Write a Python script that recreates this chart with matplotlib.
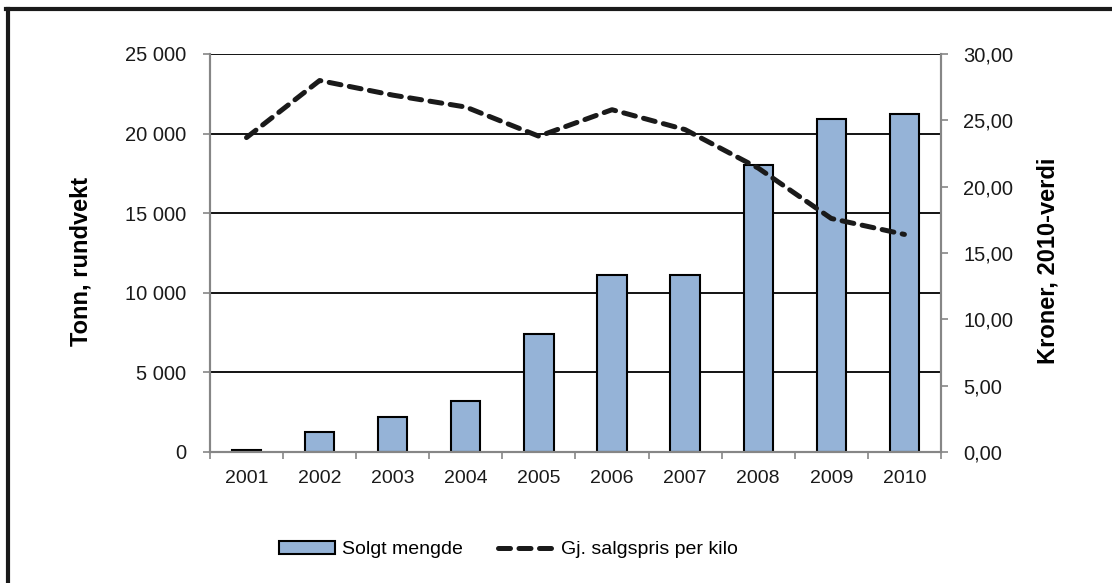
import matplotlib
matplotlib.use('Agg')
import matplotlib.pyplot as plt
from matplotlib.ticker import FuncFormatter, FixedLocator
from matplotlib.lines import Line2D
from matplotlib.patches import Patch

plt.rcParams['font.family'] = ['Liberation Sans', 'DejaVu Sans']

years = ['2001', '2002', '2003', '2004', '2005', '2006', '2007', '2008', '2009', '2010']
solgt = [120, 1250, 2200, 3200, 7400, 11100, 11100, 18050, 20900, 21200]
pris = [23.7, 28.0, 26.9, 26.0, 23.8, 25.8, 24.3, 21.4, 17.6, 16.4]

fig = plt.figure(figsize=(11.12, 5.83), dpi=100)
ax1 = fig.add_axes([0.1888, 0.2247, 0.6574, 0.6827])
ax2 = ax1.twinx()

x = list(range(len(years)))
ax1.bar(x, solgt, width=0.4, color='#95B3D7', edgecolor='black', linewidth=1.5, zorder=2)
ax2.plot(x, pris, color='#1a1a1a', linewidth=3.6, linestyle=(0, (2.4, 1.7)),
         dash_capstyle='round', zorder=3)

ax1.set_xlim(-0.5, 9.5)
ax1.set_ylim(0, 25000)
ax2.set_ylim(0, 30)
ax1.set_yticks(range(0, 25001, 5000))
ax2.set_yticks(range(0, 31, 5))
ax1.yaxis.set_major_formatter(FuncFormatter(lambda v, p: f'{int(v):,}'.replace(',', ' ')))
ax2.yaxis.set_major_formatter(FuncFormatter(lambda v, p: f'{v:.2f}'.replace('.', ',')))

ax1.set_xticks(x)
ax1.set_xticklabels(years)
ax1.xaxis.set_minor_locator(FixedLocator([i - 0.5 for i in range(11)]))
ax1.tick_params(axis='x', which='major', length=0, pad=13, labelsize=14, colors='#1a1a1a')
ax1.tick_params(axis='x', which='minor', length=5, color='#868686', width=1.2)
ax1.tick_params(axis='y', length=5, color='#868686', width=1.2, labelsize=14.5, labelcolor='#1a1a1a', pad=12)
ax2.tick_params(axis='y', length=5, color='#868686', width=1.2, labelsize=14.5, labelcolor='#1a1a1a', pad=11)

ax1.set_axisbelow(True)
ax1.yaxis.grid(True, color='black', linewidth=1.3)
for ax in (ax1, ax2):
    ax.spines['top'].set_visible(False)
    for s in ('left', 'right', 'bottom'):
        ax.spines[s].set_color('#868686')
        ax.spines[s].set_linewidth(1.5)

ax1.set_ylabel('Tonn, rundvekt', fontsize=17, fontweight='bold')
ax2.set_ylabel('Kroner, 2010-verdi', fontsize=17, fontweight='bold', rotation=90)
ax1.yaxis.set_label_coords(-0.1765, 0.48)
ax2.yaxis.set_label_coords(1.146, 0.48)
ax1.yaxis.label.set_verticalalignment('center')
ax2.yaxis.label.set_verticalalignment('center')

handles = [Patch(facecolor='#95B3D7', edgecolor='black', linewidth=1.5),
           Line2D([0], [0], color='#1a1a1a', linewidth=3.6, linestyle=(0, (2.4, 1.7)),
                  dash_capstyle='round')]
fig.legend(handles, ['Solgt mengde', 'Gj. salgspris per kilo'], loc='center',
           bbox_to_anchor=(0.457, 0.057), ncol=2, frameon=False, fontsize=14,
           handlelength=2.9, handleheight=0.65, columnspacing=1.8, handletextpad=0.35)

# outer frame, cut at the picture edges
fig.add_artist(Line2D([0.0072, 0.0072], [0, 1 - 9 / 583], transform=fig.transFigure,
                      color='#1a1a1a', linewidth=3))
fig.add_artist(Line2D([0.0058, 1], [1 - 9 / 583, 1 - 9 / 583], transform=fig.transFigure,
                      color='#1a1a1a', linewidth=3))

fig.savefig('out.png', dpi=100)
